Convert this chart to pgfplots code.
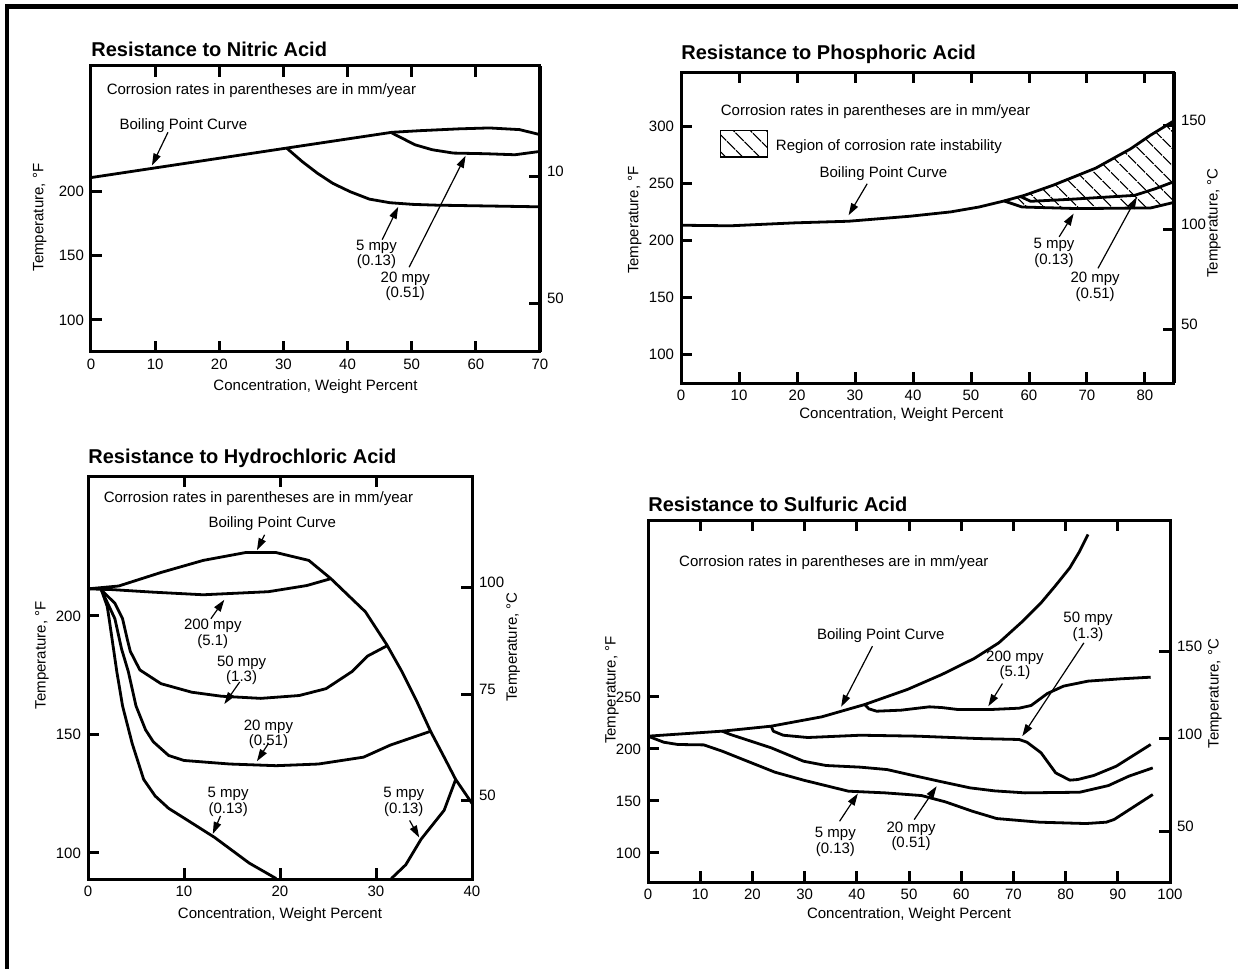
\documentclass[border=0pt]{standalone}
\usepackage{fontspec}
\setmainfont{Liberation Sans}
\usepackage{pgfplots}
\pgfplotsset{compat=1.18}
\usetikzlibrary{arrows.meta,patterns.meta}

\pgfplotsset{
  curve/.style={black, mark=none, line width=1.4pt, line join=round},
  panel/.style={
    scale only axis, anchor=north west,
    axis line style={line width=1.5pt},
    tick align=inside, major tick length=5.5pt,
    every tick/.style={black, line width=1.5pt},
    xtick pos=both, ytick pos=left,
    /pgf/number format/assume math mode=true,
    tick label style={font=\fontsize{7.5}{9}\selectfont},
    label style={font=\fontsize{7.5}{9}\selectfont},
    xlabel={Concentration, Weight Percent},
    ylabel={Temperature, °F},
    title style={at={(0,1)}, anchor=base west, inner sep=0pt, font=\bfseries\fontsize{10}{12}\selectfont},
  },
  rightax/.style={
    scale only axis, anchor=north west,
    hide x axis, axis y line*=right,
    axis line style={line width=1.5pt},
    tick align=inside, major tick length=5.5pt,
    every tick/.style={black, line width=1.5pt},
    /pgf/number format/assume math mode=true,
    tick label style={font=\fontsize{7.5}{9}\selectfont},
    yticklabel style={yshift=2.5pt},
    label style={font=\fontsize{7.5}{9}\selectfont},
  },
}

\begin{document}
\begin{tikzpicture}[
  note/.style={font=\fontsize{7.5}{7.8}\selectfont, align=center, inner sep=0pt},
  ar/.style={line width=0.6pt, -{Triangle[length=6pt,width=3.8pt]}}
]
\useasboundingbox (0,0) rectangle (619pt,-484.5pt);
\draw[line width=2.3pt, line join=miter] (3.5pt,-484.5pt) -- (3.5pt,-3.35pt) -- (619pt,-3.35pt);

% ---------------- nitric
\begin{axis}[panel, at={(45.5pt,-33pt)}, width=224.5pt, height=143pt,
  xmin=0, xmax=70, ymin=75, ymax=298,
  xtick={0,10,...,70}, ytick={100,150,200},
  title={Resistance to Nitric Acid}, title style={yshift=-1.25pt},
  xlabel style={at={(axis description cs:0.5,0)}, anchor=center, yshift=-17.5pt},
  ylabel style={at={(axis description cs:-0.114,0.47)}, anchor=center}]
\addplot[curve] coordinates {(0,211) (30.5,234) (46.9,246.3) (51.4,247.6) (57.4,249) (62.1,249.7) (66.8,248.4) (70,244.5)};
\addplot[curve] coordinates {(30.5,234) (32.9,223.6) (35.3,214.4) (37.7,206.5) (40.4,200) (43.4,194.2) (46.6,191.4) (50.2,190.1) (53.8,189.5) (70,188.2)};
\addplot[curve] coordinates {(46.9,245.8) (50.5,236.6) (53.2,232.7) (56.5,230.1) (61.5,229.6) (66.1,228.8) (70,231.4)};
\node[note, anchor=west] at (axis cs:2.4,278.5) {Corrosion rates in parentheses are in mm/year};
\node[note] at (axis cs:14.4,251.6) {Boiling Point Curve};
\draw[ar] (axis cs:12,246.3) -- (axis cs:9.5,220.4);
\node[note] at (axis cs:44.5,151) {5 mpy\\(0.13)};
\draw[ar] (axis cs:45.4,162.6) -- (axis cs:47.9,188.2);
\node[note] at (axis cs:49,126.2) {20 mpy\\(0.51)};
\draw[ar] (axis cs:49.6,141.1) -- (axis cs:58.4,228);
\end{axis}
\begin{axis}[rightax, at={(45.5pt,-33pt)}, width=224.5pt, height=143pt,
  xmin=0, xmax=70, ymin=75, ymax=298,
  ytick={212,113}, yticklabels={10,50}]
\end{axis}

% ---------------- phosphoric
\begin{axis}[panel, at={(340.5pt,-36pt)}, width=246.5pt, height=155.5pt,
  xmin=0, xmax=85, ymin=75, ymax=348,
  xtick={0,10,...,80}, ytick={100,150,...,300},
  title={Resistance to Phosphoric Acid}, title style={yshift=0.5pt},
  xlabel style={at={(axis description cs:0.447,0)}, anchor=center, yshift=-16pt},
  ylabel style={at={(axis description cs:-0.094,0.524)}, anchor=center}]
% region of corrosion rate instability
\addplot[draw=none, pattern={Lines[angle=-45,distance=6.4pt,line width=0.7pt]}] coordinates {(55.7,234.8) (59.2,239.7) (64.1,248.5) (71.5,263.6) (77.5,280.5) (81,292.7) (85,305.2) (85,233.5) (81,228.7) (68.4,228.1) (58.8,229.5)} -- cycle;
\addplot[curve] coordinates {(0,213.5) (8.5,213) (19.7,215.6) (28.9,217) (39.5,221.4) (46.5,225.2) (51.4,229.5) (55.7,234.8) (59.2,239.7) (64.1,248.5) (71.5,263.6) (77.5,280.5) (81,292.7) (85.3,306.1)};
\addplot[curve] coordinates {(55.7,234.8) (58.8,229.5) (68.4,228.1) (81,228.7) (85.3,233.9)};
\addplot[curve] coordinates {(58.5,238.7) (60.3,234.5) (66.9,236.2) (78.2,239.7) (81.8,245.6) (85.3,252.3)};
\node[note, anchor=west] at (axis cs:6.8,313.1) {Corrosion rates in parentheses are in mm/year};
\draw[line width=0.8pt, pattern={Lines[angle=-45,distance=6.4pt,line width=0.7pt]}] (axis cs:6.8,296.5) rectangle (axis cs:14.9,273.2);
\node[note, anchor=west] at (axis cs:16.3,282.8) {Region of corrosion rate instability};
\node[note] at (axis cs:34.9,259.2) {Boiling Point Curve};
\draw[ar] (axis cs:32.1,249.9) -- (axis cs:28.9,222.3);
\node[note] at (axis cs:64.3,189) {5 mpy\\(0.13)};
\draw[ar] (axis cs:65.2,203.3) -- (axis cs:67.7,223.7);
\node[note] at (axis cs:71.4,159.4) {20 mpy\\(0.51)};
\draw[ar] (axis cs:71.9,175.7) -- (axis cs:78.6,238.3);
\end{axis}
\begin{axis}[rightax, at={(340.5pt,-36pt)}, width=246.5pt, height=155.5pt,
  xmin=0, xmax=85, ymin=75, ymax=348,
  ytick={301,210,122}, yticklabels={150,100,50},
  ylabel={Temperature, °C},
  ylabel style={at={(axis description cs:1.081,0.514)}, anchor=center}]
\end{axis}

% ---------------- hydrochloric
\begin{axis}[panel, at={(44pt,-238pt)}, width=192pt, height=201.5pt,
  xmin=0, xmax=40, ymin=89, ymax=259,
  xtick={0,10,...,40}, ytick={100,150,200},
  title={Resistance to Hydrochloric Acid}, title style={yshift=0.5pt},
  xlabel style={at={(axis description cs:0.5,0)}, anchor=center, yshift=-18pt},
  ylabel style={at={(axis description cs:-0.12,0.555)}, anchor=center}]
\addplot[curve] coordinates {(0,211.4) (3.2,212.6) (7.6,218.3) (12,223.4) (16.4,226.7) (19.6,226.7) (23,223.4) (25.3,215.7) (28.9,201.7) (31.1,188) (32.7,176.5) (34.3,163.5) (35.7,151.2) (37.1,140.4) (38.3,131) (40,120.9)};
\addplot[curve] coordinates {(0,211.4) (2.4,211.1) (6.8,210) (12,208.9) (18.8,210.2) (22.8,212.8) (25.3,215.7)};
\addplot[curve] coordinates {(1.4,210.9) (2.8,205.3) (3.6,198.8) (4.1,190) (4.4,185.1) (5.4,177.2) (7.6,171.4) (10.8,167.8) (13.9,166.1) (18,165.2) (22,166.4) (24.8,169.3) (27.5,176.5) (29.1,183) (31.2,187.5)};
\addplot[curve] coordinates {(1.4,210.9) (2.2,204) (2.8,198.8) (3.5,186) (4.2,176.5) (5,162) (6,151.9) (6.8,146.9) (8.4,141.1) (10,139) (14.8,137.5) (19.6,136.8) (24,137.5) (28.7,140.4) (31.5,145.5) (35.6,151.2)};
\addplot[curve] coordinates {(1.4,210.9) (2,204) (2.2,198.8) (3,176.5) (3.6,162) (4.6,146.2) (5.8,131) (7,124) (8.4,118.8) (10.4,113.7) (13.2,106.5) (16.8,95.7) (19.6,89.2)};
\addplot[curve] coordinates {(31.6,89.2) (33.1,95) (34.7,105.8) (37.1,118) (38.3,131)};
\node[note, anchor=west] at (axis cs:1.6,249.4) {Corrosion rates in parentheses are in mm/year};
\node[note] at (axis cs:19.2,238.8) {Boiling Point Curve};
\draw[ar] (axis cs:18.4,234.2) -- (axis cs:17.6,227.7);
\node[note] at (axis cs:13,192.4) {200 mpy\\(5.1)};
\draw[ar] (axis cs:12.8,198.8) -- (axis cs:14.2,206.8);
\node[note] at (axis cs:16,177.1) {50 mpy\\(1.3)};
\draw[ar] (axis cs:15.8,172.1) -- (axis cs:14.2,162.8);
\node[note] at (axis cs:18.8,150.1) {20 mpy\\(0.51)};
\draw[ar] (axis cs:18.8,146.2) -- (axis cs:17.6,138.7);
\node[note] at (axis cs:14.6,121.6) {5 mpy\\(0.13)};
\draw[ar] (axis cs:13.8,115.6) -- (axis cs:13,108);
\node[note] at (axis cs:32.9,121.6) {5 mpy\\(0.13)};
\draw[ar] (axis cs:33.5,113.7) -- (axis cs:34.5,106.5);
\end{axis}
\begin{axis}[rightax, at={(44pt,-238pt)}, width=192pt, height=201.5pt,
  xmin=0, xmax=40, ymin=89, ymax=259,
  ytick={212,167,122}, yticklabels={100,75,50},
  ylabel={Temperature, °C},
  ylabel style={at={(axis description cs:1.107,0.576)}, anchor=center}]
\end{axis}

% ---------------- sulfuric
\begin{axis}[panel, at={(324pt,-260pt)}, width=261pt, height=181pt,
  xmin=0, xmax=100, ymin=72, ymax=420,
  xtick={0,10,...,100}, ytick={100,150,200,250},
  title={Resistance to Sulfuric Acid}, title style={yshift=-1.5pt},
  xlabel style={at={(axis description cs:0.5,0)}, anchor=center, yshift=-16.5pt},
  ylabel style={at={(axis description cs:-0.069,0.53)}, anchor=center}]
\addplot[curve] coordinates {(0,212.2) (14.2,217) (23.6,221.8) (33.3,230.8) (41.5,242.6) (49.7,257.1) (56.3,271.5) (62.5,286.9) (67.2,301.9) (71.8,322.8) (75.3,340.4) (78.1,357.1) (80.8,374) (82.7,390) (84.3,406.1)};
\addplot[curve] coordinates {(41.5,242.6) (42.3,238.5) (43.8,236.2) (48.5,237.2) (53.9,240.4) (56.3,239.7) (59.4,237.8) (65.6,237.8) (71.1,239.1) (73.4,241.7) (76.5,253.2) (79.6,260.3) (84.3,265.1) (90.5,267.3) (96.3,268.9)};
\addplot[curve] coordinates {(23.6,221.8) (24,217) (25.9,213.1) (30.6,210.9) (40.7,213.1) (51.6,212.2) (63.3,209.9) (71.1,209) (72.6,206.4) (75.3,196.2) (78.1,176.9) (80.8,169.9) (82.3,170.5) (85.4,174.4) (89.7,183.3) (96.3,204.2)};
\addplot[curve] coordinates {(14.2,217) (15.8,213.8) (23.6,201) (29.8,188.1) (34.1,184) (40.7,182.4) (45.8,180.1) (50,175.3) (56.3,168.3) (61.7,162.5) (66.4,159.6) (72.2,157.7) (82.7,158.3) (88.2,164.7) (92.1,173.7) (96.7,181.7)};
\addplot[curve] coordinates {(0,212.2) (3,206.4) (5.7,204.2) (10.7,203.8) (14.2,197.8) (24.3,177.6) (29.8,169.9) (38.4,159.3) (45.4,157.7) (52.4,155.1) (57,149) (62.1,140.1) (66.8,133) (75,129.5) (83.9,128.2) (87.8,129.5) (89.3,132.1) (96.7,156.1)};
\node[note, anchor=west] at (axis cs:5.9,378.8) {Corrosion rates in parentheses are in mm/year};
\node[note] at (axis cs:44.6,309) {Boiling Point Curve};
\draw[ar] (axis cs:43,298.7) -- (axis cs:37,240.4);
\node[note] at (axis cs:70.3,280.4) {200 mpy\\(5.1)};
\draw[ar] (axis cs:67.9,262.8) -- (axis cs:65.2,241);
\node[note] at (axis cs:84.3,317.3) {50 mpy\\(1.3)};
\draw[ar] (axis cs:83.5,301.9) -- (axis cs:71.7,212.2);
\node[note] at (axis cs:35.9,110.3) {5 mpy\\(0.13)};
\draw[ar] (axis cs:36.7,130.4) -- (axis cs:40.2,157);
\node[note] at (axis cs:50.4,116) {20 mpy\\(0.51)};
\draw[ar] (axis cs:51,132) -- (axis cs:55.3,164.1);
\end{axis}
\begin{axis}[rightax, at={(324pt,-260pt)}, width=261pt, height=181pt,
  xmin=0, xmax=100, ymin=72, ymax=420,
  ytick={294,209.6,121}, yticklabels={150,100,50},
  ylabel={Temperature, °C},
  ylabel style={at={(axis description cs:1.086,0.52)}, anchor=center}]
\end{axis}
\end{tikzpicture}
\end{document}
